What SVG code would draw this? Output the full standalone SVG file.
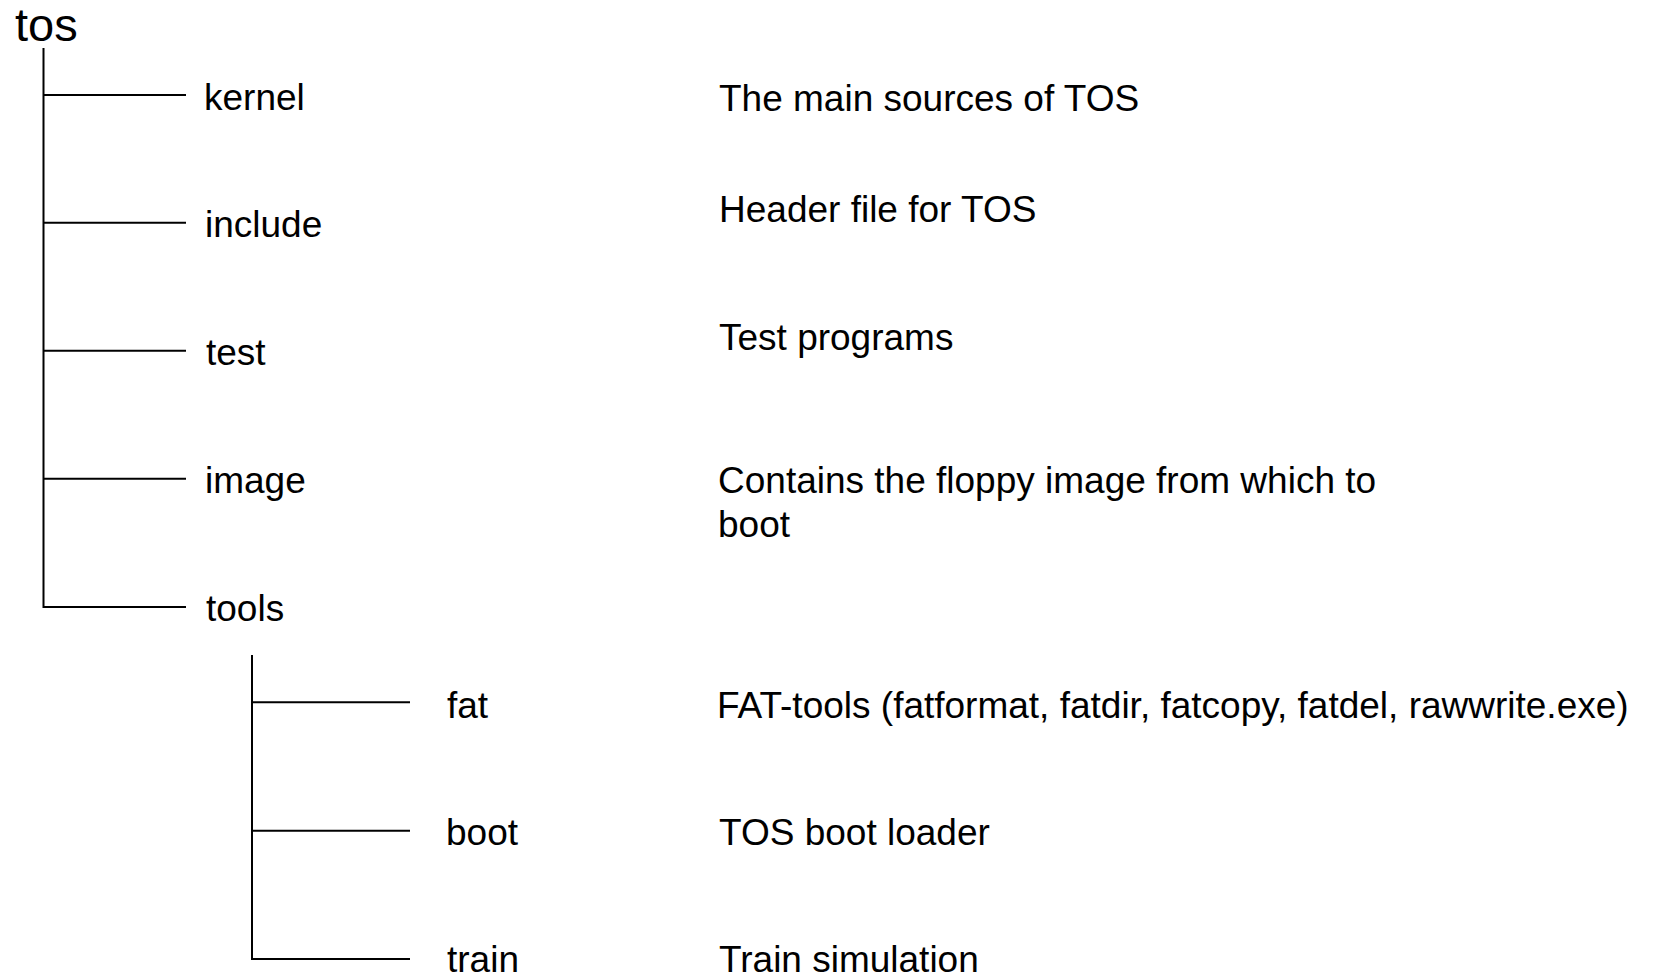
<svg xmlns="http://www.w3.org/2000/svg" width="1658" height="976" viewBox="0 0 1658 976">
  <style>
    .bg { fill: #ffffff; }
    .lbl { font-family: "Liberation Sans", Arial, sans-serif; font-size: 37px; fill: #000000; }
    .root { font-family: "Liberation Sans", Arial, sans-serif; font-size: 47px; fill: #000000; }
    .edge { stroke: #000000; stroke-width: 2; fill: none; }
  </style>
  <rect class="bg" x="0" y="0" width="1658" height="976"/>

  <!-- tree connectors -->
  <g id="connectors">
    <path class="edge" d="M43.5,48 V607 H186"/>
    <path class="edge" d="M43.5,95 H186"/>
    <path class="edge" d="M43.5,222.7 H186"/>
    <path class="edge" d="M43.5,350.7 H186"/>
    <path class="edge" d="M43.5,478.7 H186"/>
    <path class="edge" d="M252,655 V959 H410"/>
    <path class="edge" d="M252,702.3 H410"/>
    <path class="edge" d="M252,830.7 H410"/>
  </g>

  <!-- directory nodes with descriptions -->
  <g id="node-tos">
    <text class="root" x="15" y="41">tos</text>
  </g>
  <g id="node-kernel">
    <text class="lbl" x="204" y="110">kernel</text>
    <text class="lbl" x="719" y="110.7">The main sources of TOS</text>
  </g>
  <g id="node-include">
    <text class="lbl" x="205" y="237">include</text>
    <text class="lbl" x="719" y="222.3">Header file for TOS</text>
  </g>
  <g id="node-test">
    <text class="lbl" x="206" y="365">test</text>
    <text class="lbl" x="719" y="350">Test programs</text>
  </g>
  <g id="node-image">
    <text class="lbl" x="205" y="493">image</text>
    <text class="lbl" x="718" y="493">Contains the floppy image from which to</text>
    <text class="lbl" x="718" y="537">boot</text>
  </g>
  <g id="node-tools">
    <text class="lbl" x="206" y="621">tools</text>
  </g>
  <g id="node-fat">
    <text class="lbl" x="447" y="718">fat</text>
    <text class="lbl" x="717" y="718">FAT-tools (fatformat, fatdir, fatcopy, fatdel, rawwrite.exe)</text>
  </g>
  <g id="node-boot">
    <text class="lbl" x="446" y="845">boot</text>
    <text class="lbl" x="719" y="845">TOS boot loader</text>
  </g>
  <g id="node-train">
    <text class="lbl" x="447" y="972">train</text>
    <text class="lbl" x="719" y="972">Train simulation</text>
  </g>
</svg>
